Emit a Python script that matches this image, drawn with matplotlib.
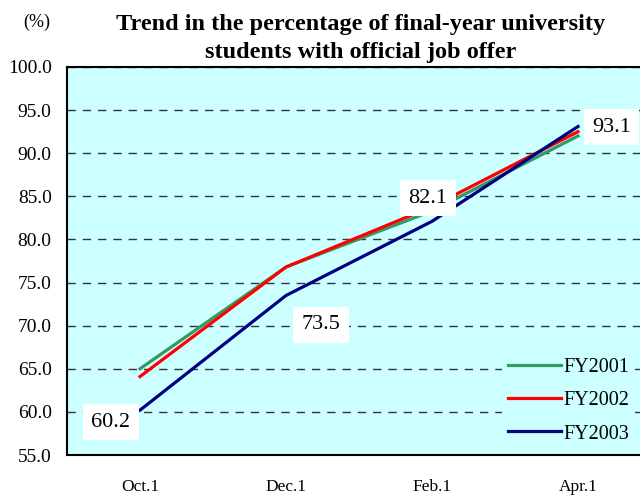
# Job offer rate trend for final-year university students

import matplotlib.pyplot as plt

months = ["Oct.1", "Dec.1", "Feb.1", "Apr.1"]
fy2001 = [65.0, 76.8, 83.3, 92.0]
fy2002 = [64.1, 76.8, 83.8, 92.5]
fy2003 = [60.2, 73.5, 82.1, 93.1]
yticks = [55, 60, 65, 70, 75, 80, 85, 90, 95, 100]

# where the FY2003 value boxes sit, relative to each point
label_offsets = [(-0.2, -1.4), (0.24, -3.4), (-0.03, 2.7), (0.23, -0.1)]


def main():
    plt.rcParams["font.family"] = ["Liberation Serif", "DejaVu Serif"]
    fig = plt.figure(figsize=(6.4, 4.97), dpi=100)
    ax = fig.add_axes([0.1047, 0.0845, 0.9125, 0.7807])
    ax.set_facecolor("#CCFFFF")

    x = list(range(len(months)))
    ax.plot(x, fy2001, color="#339966", lw=2.3, label="FY2001", zorder=3)
    ax.plot(x, fy2002, color="#FF0000", lw=2.3, label="FY2002", zorder=4)
    ax.plot(x, fy2003, color="#000080", lw=2.3, label="FY2003", zorder=5)

    for i, v in enumerate(fy2003):
        dx, dy = label_offsets[i]
        ax.text(i + dx, v + dy, f"{v:.1f}", fontsize=16, ha="center", va="center",
                bbox=dict(facecolor="white", edgecolor="none", pad=6), zorder=6)

    ax.set_xlim(-0.5, 3.5)
    ax.set_ylim(55, 100)
    ax.set_yticks(yticks)
    ax.set_yticklabels([f"{t:.1f}" for t in yticks], fontsize=14)
    ax.set_xticks(x)
    ax.set_xticklabels(months, fontsize=12.5)
    ax.tick_params(axis="x", length=0, pad=17)
    ax.tick_params(axis="y", length=0, pad=11)

    ax.grid(axis="y", linestyle=(0, (6, 5)), color="#333333", lw=1)
    ax.set_axisbelow(True)
    for side in ["left", "bottom", "top"]:
        ax.spines[side].set_linewidth(1.5)
    ax.spines["right"].set_visible(False)

    ax.legend(loc="lower right", bbox_to_anchor=(0.99, -0.012), frameon=True,
              facecolor="#CCFFFF", edgecolor="none", framealpha=1, fancybox=False,
              fontsize=14.5, handlelength=2.6, handletextpad=0.12, labelspacing=0.7,
              borderpad=0.3)

    fig.text(0.058, 0.955, "(%)", fontsize=13, ha="center", va="center")
    fig.text(0.563, 0.922, "Trend in the percentage of final-year university\nstudents with official job offer",
             fontsize=17.5, fontweight="bold", ha="center", va="center", linespacing=1.45)

    fig.savefig("out.png", dpi=100)
    plt.close(fig)


if __name__ == "__main__":
    main()
